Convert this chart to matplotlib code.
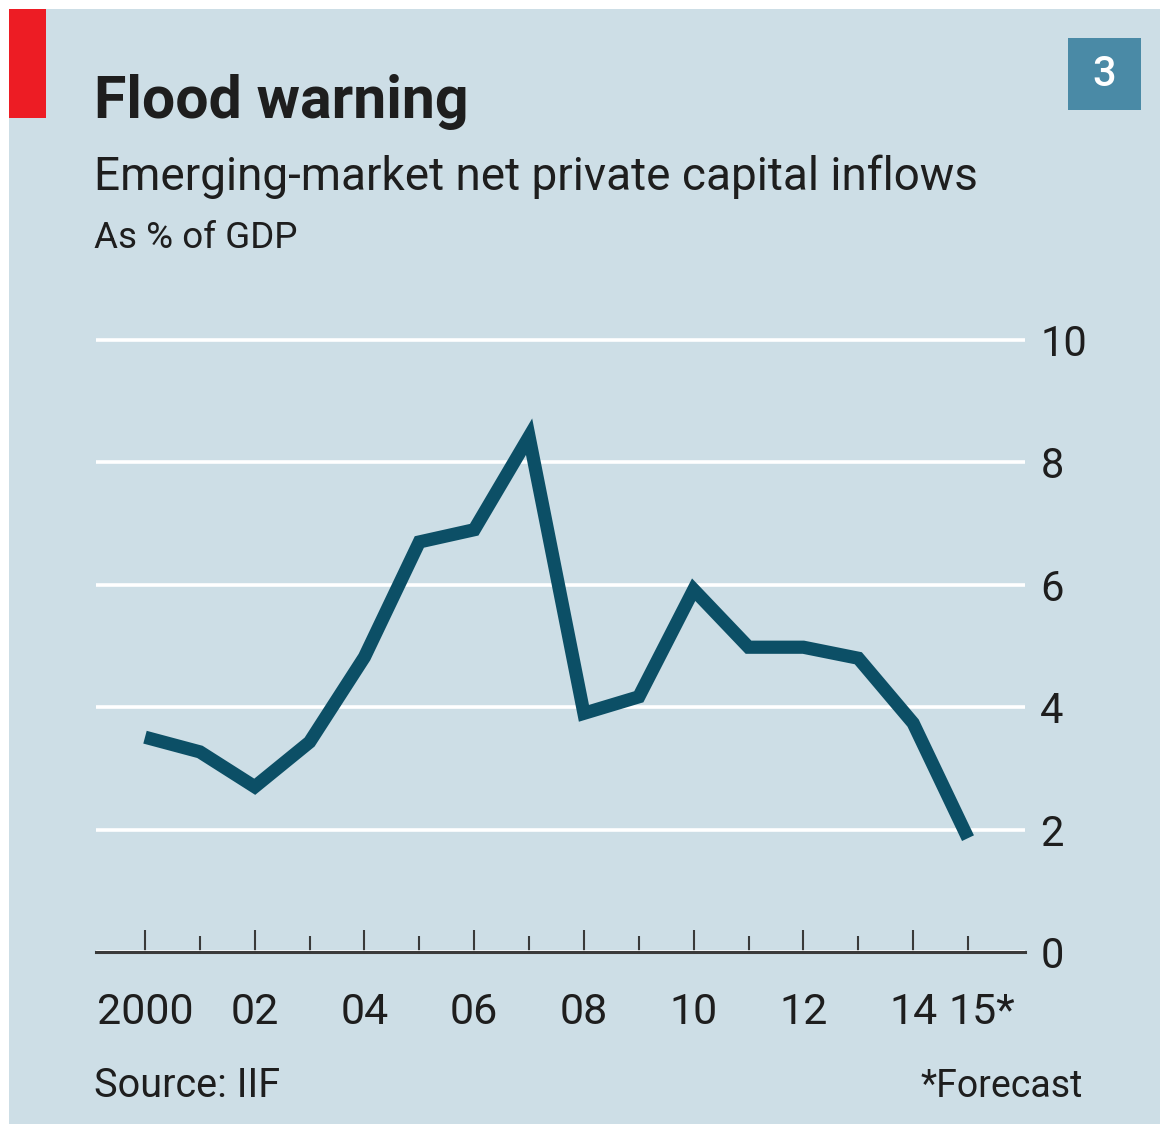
import matplotlib
matplotlib.use("Agg")
import matplotlib.pyplot as plt
from matplotlib.patches import Rectangle
from matplotlib.transforms import ScaledTranslation

# ---- data ----
years = [2000, 2001, 2002, 2003, 2004, 2005, 2006, 2007,
         2008, 2009, 2010, 2011, 2012, 2013, 2014, 2015]
inflows = [3.51, 3.27, 2.70, 3.43, 4.82, 6.70, 6.90, 8.42,
           3.90, 4.17, 5.92, 4.98, 4.98, 4.80, 3.74, 1.86]
major_years = [2000, 2002, 2004, 2006, 2008, 2010, 2012, 2014]
major_labels = ["2000", "02", "04", "06", "08", "10", "12", "14"]
minor_years = [2001, 2003, 2005, 2007, 2009, 2011, 2013, 2015]
minor_labels = ["", "", "", "", "", "", "", "15*"]
y_ticks = [0, 2, 4, 6, 8, 10]
y_labels = ["0", "2", "4", "6", "8", "10"]

title = "Flood warning"
subtitle = "Emerging-market net private capital inflows"
unit = "As % of GDP"
source = "Source: IIF"
note = "*Forecast"
chart_no = "3"

BG = "#cddee6"
LINE = "#0c4f66"
TXT = "#1e1e1e"
RED = "#ed1c24"
BOX = "#4a8aa6"

plt.rcParams['font.family'] = ['Roboto', 'DejaVu Sans']

W, H = 1160, 1124
fig = plt.figure(figsize=(W / 100, H / 100), dpi=100)
fig.patch.set_facecolor("white")

def fx(px):
    return px / W

def fy(py):
    return 1 - py / H

# panel background
fig.patches.append(Rectangle((fx(9), 0), 1 - fx(9), fy(9), transform=fig.transFigure,
                             facecolor=BG, edgecolor="none", zorder=-2))
# red tag
fig.patches.append(Rectangle((fx(9), fy(118)), fx(46) - fx(9), fy(9) - fy(118),
                             transform=fig.transFigure, facecolor=RED, edgecolor="none", zorder=-1))
# chart number box
fig.patches.append(Rectangle((fx(1068), fy(110)), fx(1141) - fx(1068), fy(38) - fy(110),
                             transform=fig.transFigure, facecolor=BOX, edgecolor="none", zorder=-1))
fig.text(fx(1104.5), fy(75), chart_no, color="white", fontsize=30, weight="medium",
         ha="center", va="center")

fig.text(fx(94), fy(118), title, fontsize=42.5, weight="bold", color=TXT, va="baseline")
fig.text(fx(94), fy(190), subtitle, fontsize=33, color=TXT, va="baseline")
fig.text(fx(94), fy(248), unit, fontsize=26.5, color=TXT, va="baseline")
fig.text(fx(94), fy(1097), source, fontsize=28.5, color=TXT, va="baseline")
fig.text(fx(1083), fy(1097), note, fontsize=27, color=TXT, va="baseline", ha="right")

# axes
y0_px, y10_px = 952, 340
per = (y0_px - y10_px) / 10
ytop = 10.4
ax_top_px = y0_px - ytop * per
ax = fig.add_axes([fx(96), fy(y0_px), fx(1025) - fx(96), (y0_px - ax_top_px) / H])
ax.patch.set_visible(False)

xpp = (968 - 145) / 15
ax.set_xlim(2000 - (145 - 96) / xpp, 2000 + (1025 - 145) / xpp)
ax.set_ylim(0, ytop)

ax.plot(years, inflows, color=LINE, lw=9.5, solid_joinstyle="miter",
        solid_capstyle="butt", zorder=3)

for s in ["top", "left", "right"]:
    ax.spines[s].set_visible(False)
ax.spines["bottom"].set_color("#3a3a3a")
ax.spines["bottom"].set_linewidth(2.2)
ax.spines["bottom"].set_zorder(2.5)

ax.set_yticks(y_ticks, labels=y_labels)
ax.yaxis.tick_right()
ax.tick_params(axis="y", length=0, pad=11, labelsize=30, labelcolor=TXT)
ax.set_axisbelow(True)
ax.grid(axis="y", color="white", lw=2.6)

ax.set_xticks(major_years, labels=major_labels)
ax.set_xticks(minor_years, labels=minor_labels, minor=True)
ax.tick_params(axis="x", which="major", direction="in", length=16, width=1.5,
               color="#3a3a3a", pad=28.5, labelsize=31, labelcolor=TXT)
ax.tick_params(axis="x", which="minor", direction="in", length=11.5, width=1.5,
               color="#3a3a3a", pad=28.5, labelsize=31, labelcolor=TXT)

lbl = ax.xaxis.get_minor_ticks()[-1].label1
lbl.set_transform(lbl.get_transform() + ScaledTranslation(14 / 100, 0, fig.dpi_scale_trans))

fig.savefig("out.png", dpi=100, facecolor=fig.get_facecolor())
